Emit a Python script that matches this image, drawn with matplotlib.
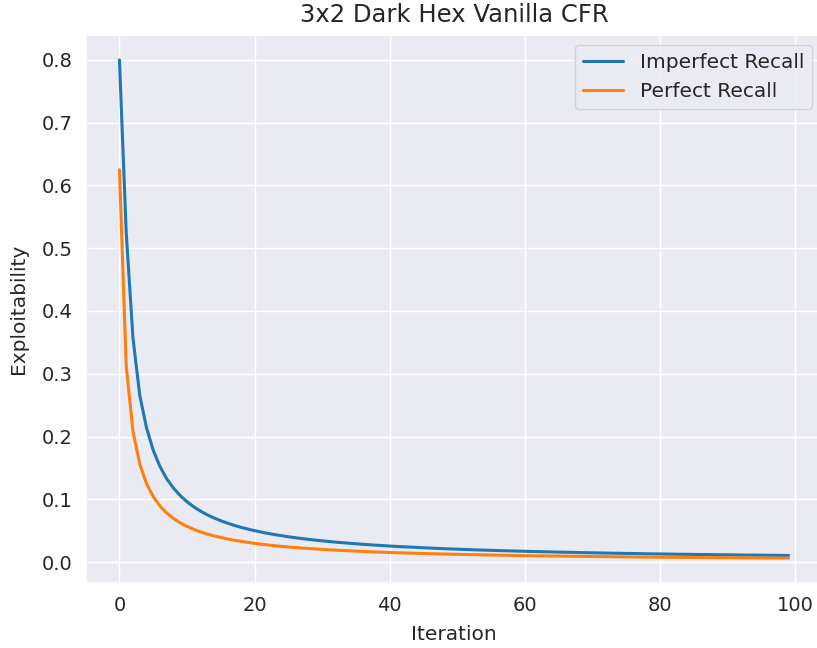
import matplotlib
matplotlib.use("Agg")
import matplotlib.pyplot as plt
import seaborn as sns

iterations = list(range(100))

# exploitability, one value per iteration
imperfect_recall = [
    0.800, 0.525, 0.357, 0.266, 0.214, 0.178, 0.152, 0.1325, 0.1177, 0.1058,
    0.0960, 0.0879, 0.0811, 0.0752, 0.0702, 0.0658, 0.0619, 0.0584, 0.0553, 0.0525,
    0.0500, 0.0477, 0.0456, 0.0437, 0.0420, 0.0403, 0.0388, 0.0374, 0.0361, 0.0349,
    0.0338, 0.0327, 0.0317, 0.0308, 0.0299, 0.0291, 0.0283, 0.0275, 0.0268, 0.0262,
    0.0255, 0.0249, 0.0243, 0.0238, 0.0233, 0.0227, 0.0223, 0.0218, 0.0213, 0.0209,
    0.0205, 0.0201, 0.0197, 0.0193, 0.0190, 0.0186, 0.0183, 0.0180, 0.0177, 0.0174,
    0.0171, 0.0168, 0.0166, 0.0163, 0.0161, 0.0158, 0.0156, 0.0154, 0.0151, 0.0149,
    0.0147, 0.0145, 0.0143, 0.0141, 0.0139, 0.0137, 0.0136, 0.0134, 0.0132, 0.0130,
    0.0129, 0.0127, 0.0126, 0.0124, 0.0123, 0.0121, 0.0120, 0.0119, 0.0117, 0.0116,
    0.0115, 0.0114, 0.0112, 0.0111, 0.0110, 0.0109, 0.0108, 0.0107, 0.0106, 0.0105,
]
perfect_recall = [
    0.625, 0.3125, 0.2083, 0.1563, 0.1250, 0.1042, 0.0893, 0.0781, 0.0694, 0.0625,
    0.0568, 0.0521, 0.0481, 0.0446, 0.0417, 0.0391, 0.0368, 0.0347, 0.0329, 0.0313,
    0.0298, 0.0284, 0.0272, 0.0260, 0.0250, 0.0240, 0.0231, 0.0223, 0.0216, 0.0208,
    0.0202, 0.0195, 0.0189, 0.0184, 0.0179, 0.0174, 0.0169, 0.0164, 0.0160, 0.0156,
    0.0152, 0.0149, 0.0145, 0.0142, 0.0139, 0.0136, 0.0133, 0.0130, 0.0128, 0.0125,
    0.0123, 0.0120, 0.0118, 0.0116, 0.0114, 0.0112, 0.0110, 0.0108, 0.0106, 0.0104,
    0.0102, 0.0101, 0.0099, 0.0098, 0.0096, 0.0095, 0.0093, 0.0092, 0.0091, 0.0089,
    0.0088, 0.0087, 0.0086, 0.0084, 0.0083, 0.0082, 0.0081, 0.0080, 0.0079, 0.0078,
    0.0077, 0.0076, 0.0075, 0.0074, 0.0074, 0.0073, 0.0072, 0.0071, 0.0070, 0.0069,
    0.0069, 0.0068, 0.0067, 0.0066, 0.0066, 0.0065, 0.0064, 0.0064, 0.0063, 0.0063,
]

sns.set_theme(style="darkgrid")

fig = plt.figure(figsize=(8.17, 6.48), dpi=100)
ax = fig.add_axes([86 / 817, 1 - 583 / 648, 736 / 817, 548 / 648])

ax.plot(iterations, imperfect_recall, color="#1f77b4", linewidth=2.2, label="Imperfect Recall")
ax.plot(iterations, perfect_recall, color="#ff7f0e", linewidth=2.2, label="Perfect Recall")

ax.set_title("3x2 Dark Hex Vanilla CFR", fontsize=17.5, pad=9)
ax.set_xlabel("Iteration", fontsize=14.5, labelpad=7)
ax.set_ylabel("Exploitability", fontsize=14.5, labelpad=10)
ax.tick_params(labelsize=14)
ax.legend(loc="upper right", fontsize=14.5)

fig.savefig("out.png", dpi=100)
